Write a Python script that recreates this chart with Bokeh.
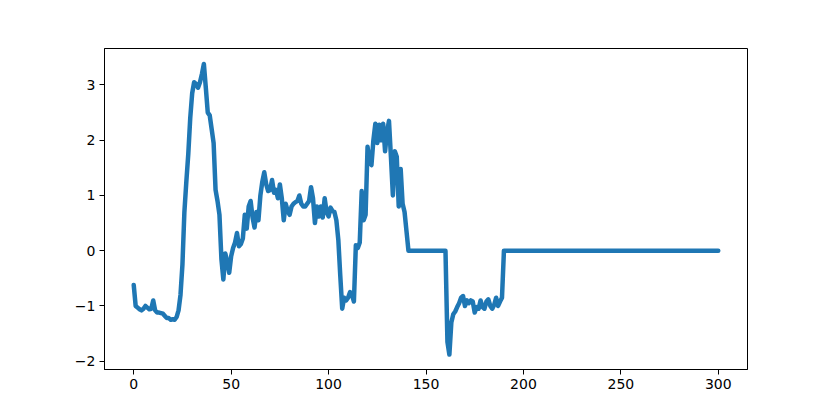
from bokeh.plotting import figure
from bokeh.embed import file_html
from bokeh.resources import INLINE
from bokeh.models import Range1d, FixedTicker, CustomJSTickFormatter

# ---- data ----
head_values = [
    -0.62, -1.00, -1.03, -1.06, -1.08, -1.05, -1.00, -1.03, -1.06, -1.05,
    -0.90, -1.08, -1.12, -1.12, -1.13, -1.14, -1.18, -1.22, -1.22, -1.25,
    -1.24, -1.25, -1.20, -1.08, -0.80, -0.25, 0.70, 1.25, 1.75, 2.40,
    2.85, 3.05, 3.02, 2.95, 3.05, 3.20, 3.38, 2.95, 2.50, 2.45,
    2.20, 1.95, 1.10, 0.90, 0.65, -0.15, -0.52, -0.05, -0.20, -0.40,
    -0.10, 0.05, 0.15, 0.32, 0.08, 0.12, 0.22, 0.65, 0.40, 0.80,
    0.90, 0.60, 0.42, 0.70, 0.55, 1.00, 1.25, 1.42, 1.20, 1.08,
    1.10, 1.28, 1.05, 1.10, 0.95, 1.20, 0.95, 0.55, 0.85, 0.72,
    0.65, 0.80, 0.85, 0.88, 0.90, 1.00, 0.85, 0.80, 0.80, 0.85,
    0.90, 1.15, 0.95, 0.50, 0.80, 0.62, 0.80, 0.60, 0.95, 0.70,
    0.62, 0.78, 0.72, 0.70, 0.55, 0.20, -0.45, -1.05, -0.85, -0.90,
    -0.85, -0.75, -0.80, -0.92, 0.10, 0.05, 0.15, 1.08, 0.55, 0.65,
    1.88, 1.60, 1.55, 2.00, 2.30, 1.95, 2.28, 2.00, 2.30, 1.80,
    2.15, 2.35, 1.70, 1.00, 1.80, 1.70, 0.80, 1.48, 0.85, 0.70,
    0.35, 0.00,
]
flat_mid_values = [0.0] * 19          # indices 142..160
dip_values = [
    -1.65, -1.88, -1.30, -1.15, -1.10, -1.02, -0.95, -0.85, -0.82, -1.00,
    -0.90, -0.95, -0.90, -0.92, -1.12, -1.02, -1.05, -0.90, -1.02, -1.05,
    -0.92, -0.88, -1.00, -1.05, -0.98, -0.85, -1.00, -0.92, -0.85,
]                                      # indices 161..189
tail_values = [0.0] * 111             # indices 190..300

y_values = head_values + flat_mid_values + dip_values + tail_values
x_values = list(range(len(y_values)))

x_ticks = [0, 50, 100, 150, 200, 250, 300]
y_ticks = [-2, -1, 0, 1, 2, 3]

# ---- figure ----
p = figure(width=820, height=405, output_backend="svg", toolbar_location=None,
           x_range=Range1d(-15, 315), y_range=Range1d(-2.15, 3.66),
           min_border_left=104, min_border_top=48, min_border_right=73,
           min_border_bottom=36)

p.line(x_values, y_values, line_width=4.5, line_color="#1f77b4",
       line_join="round", line_cap="round")

p.xgrid.visible = False
p.ygrid.visible = False
p.outline_line_color = "black"
p.outline_line_width = 1
p.background_fill_color = "white"
p.border_fill_color = "white"

fmt = CustomJSTickFormatter(code="return tick.toString().replace('-', '\u2212');")
p.xaxis.ticker = FixedTicker(ticks=x_ticks)
p.yaxis.ticker = FixedTicker(ticks=y_ticks)
p.yaxis.formatter = fmt
p.xaxis.formatter = fmt
for ax in (p.xaxis, p.yaxis):
    ax.major_tick_in = 0
    ax.major_tick_out = 5
    ax.minor_tick_in = 0
    ax.minor_tick_out = 0
    ax.axis_line_color = "black"
    ax.major_tick_line_color = "black"
    ax.major_label_text_font = "DejaVu Sans"
    ax.major_label_text_font_size = "14px"
    ax.major_label_text_color = "black"
    ax.major_label_standoff = 4

open("out.html", "w").write(file_html(p, INLINE))
